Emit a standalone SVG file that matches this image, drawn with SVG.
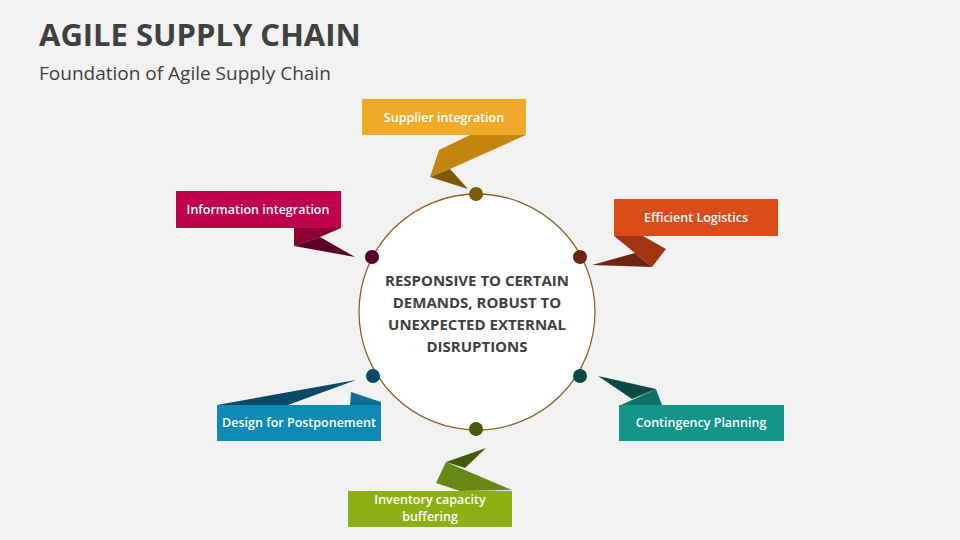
<svg xmlns="http://www.w3.org/2000/svg" width="960" height="540" viewBox="0 0 960 540">
<style>
text{font-family:"Open Sans","Liberation Sans",sans-serif}
.lbl{fill:#fff;font-size:12.5px;font-weight:600;text-anchor:middle}
.ctr{fill:#404040;font-size:15px;font-weight:700;text-anchor:middle}
</style>
<rect width="960" height="540" fill="#f2f2f2"/>
<text x="39" y="46" font-size="31" font-weight="700" fill="#404040">AGILE SUPPLY CHAIN</text>
<text x="39" y="80" font-size="19" fill="#404040">Foundation of Agile Supply Chain</text>
<g id="hub">
<circle cx="477" cy="312" r="118" fill="#fff" stroke="#8B6420" stroke-width="1.3"/>
<text class="ctr" x="477" y="286">RESPONSIVE  TO CERTAIN</text>
<text class="ctr" x="477" y="308">DEMANDS, ROBUST TO</text>
<text class="ctr" x="477" y="330">UNEXPECTED EXTERNAL</text>
<text class="ctr" x="477" y="352">DISRUPTIONS</text>
</g>
<g id="connectors">
<polygon points="470,135 526,135 450,169 430,177 439,150" fill="#C4860F"/>
<polygon points="430,177 450,169 468,189" fill="#7F5A09"/>
<polygon points="614,236 643,236 666,249 652,267 635,253" fill="#A33515"/>
<polygon points="592,265 635,253 652,267" fill="#6E2410"/>
<polygon points="294,228 341,228 320,237 294,246" fill="#8D0034"/>
<polygon points="320,237 355,257 294,246" fill="#5C0025"/>
<polygon points="351,392 381,402 381,405 350,405" fill="#0B6E92"/>
<polygon points="217,405 356,380 288,405" fill="#0A4A66"/>
<polygon points="621,405 656,389 662,405" fill="#0F7268"/>
<polygon points="598,376 656,389 632,399" fill="#0B4A44"/>
<polygon points="446,462 512,490 460,491 436,483" fill="#678814"/>
<polygon points="446,462 486,448 465,468" fill="#465C0A"/>
</g>
<g id="supplier"><rect x="362" y="99" width="164" height="36" fill="#F0AA2A"/><text class="lbl" x="444" y="122">Supplier  integration</text><circle cx="476" cy="194" r="7" fill="#7E5A0C"/></g>
<g id="logistics"><rect x="614" y="199" width="164" height="37" fill="#DC4C1A"/><text class="lbl" x="696" y="222">Efficient Logistics</text><circle cx="580" cy="257" r="7" fill="#6E2410"/></g>
<g id="information"><rect x="176" y="191" width="165" height="37" fill="#C0004B"/><text class="lbl" x="258" y="214">Information integration</text><circle cx="372" cy="257" r="7" fill="#5C0030"/></g>
<g id="design"><rect x="217" y="405" width="164" height="36" fill="#0E8AB5"/><text class="lbl" x="299" y="427">Design for Postponement</text><circle cx="373" cy="376" r="7" fill="#0A4A66"/></g>
<g id="contingency"><rect x="619" y="405" width="165" height="36" fill="#13958A"/><text class="lbl" x="701" y="427">Contingency Planning</text><circle cx="580" cy="376" r="7" fill="#0B4A44"/></g>
<g id="inventory"><rect x="348" y="491" width="164" height="36" fill="#8AB012"/><text class="lbl" x="430" y="504">Inventory capacity</text><text class="lbl" x="430" y="521">buffering</text><circle cx="476" cy="429" r="7" fill="#465C0A"/></g>
</svg>
